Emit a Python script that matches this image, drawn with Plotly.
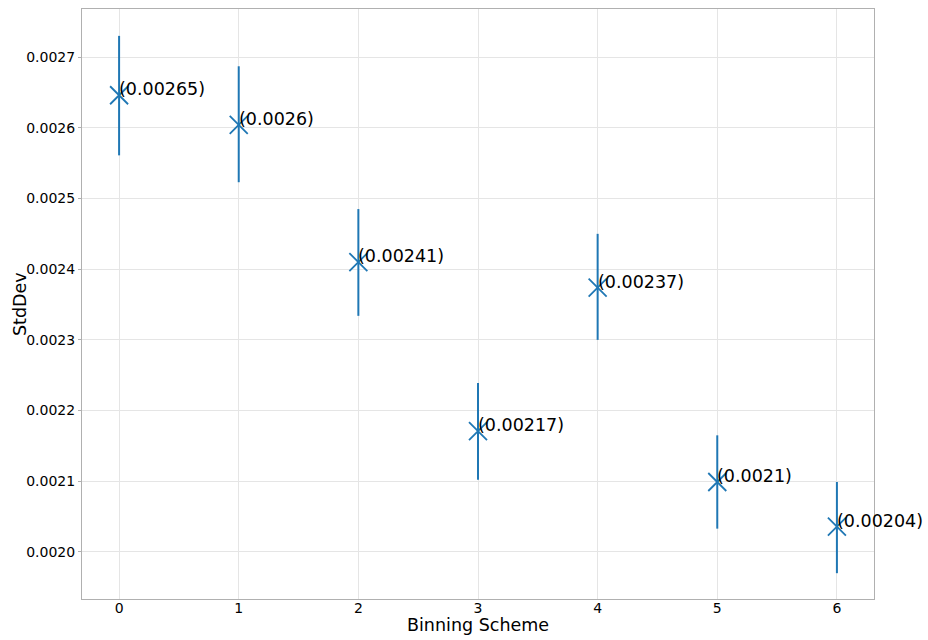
import plotly.graph_objects as go

# Binning scheme index and measured standard deviation with its uncertainty
schemes = [0, 1, 2, 3, 4, 5, 6]
std_dev = [0.002646, 0.002604, 0.002410, 0.002171, 0.002374, 0.002099, 0.002036]
err_plus = [0.000084, 0.000083, 0.000075, 0.000068, 0.000076, 0.000066, 0.000063]
err_minus = [0.000085, 0.000081, 0.000076, 0.000069, 0.000074, 0.000066, 0.000066]

blue = "#1f77b4"
font_family = "DejaVu Sans"

fig = go.Figure()
fig.add_trace(go.Scatter(
    x=schemes,
    y=std_dev,
    mode="markers",
    marker=dict(symbol="x-thin", size=18, line=dict(width=1.8, color=blue), color=blue),
    error_y=dict(type="data", symmetric=False, array=err_plus, arrayminus=err_minus,
                 width=0, thickness=2, color=blue),
    showlegend=False,
))

# value labels next to each point
for xv, yv in zip(schemes, std_dev):
    fig.add_annotation(
        x=xv, y=yv, text=f"({round(yv, 5):g})",
        showarrow=False, xanchor="left", yanchor="middle", yshift=6, xshift=-2,
        font=dict(family=font_family, size=17.5, color="black"),
    )

# axis titles
fig.add_annotation(
    x=0.5, y=0.0, xref="paper", yref="paper", yshift=-26,
    text="Binning Scheme", showarrow=False, xanchor="center", yanchor="middle",
    font=dict(family=font_family, size=17.5, color="black"),
)
fig.add_annotation(
    x=0.0, y=0.5, xref="paper", yref="paper", xshift=-62,
    text="StdDev", textangle=-90, showarrow=False, xanchor="center", yanchor="middle",
    font=dict(family=font_family, size=17.5, color="black"),
)

axis_common = dict(
    showgrid=True, gridcolor="#e5e5e5", gridwidth=1,
    showline=True, linecolor="#b0b0b0", linewidth=1, mirror=True,
    tickfont=dict(family=font_family, size=14, color="black"),
    zeroline=False, automargin=False,
)

fig.update_xaxes(
    range=[-0.31, 6.31], tickmode="array", tickvals=schemes,
    ticks="", ticklabelstandoff=-4,
    **axis_common,
)
fig.update_yaxes(
    range=[0.0019335, 0.002768], dtick=0.0001, tickformat=".4f",
    ticks="outside", ticklen=3, tickcolor="#b0b0b0",
    **axis_common,
)

fig.update_layout(
    width=928, height=640,
    margin=dict(l=82, r=54, t=9, b=41),
    plot_bgcolor="white", paper_bgcolor="white",
)

fig.write_html("out.html")
